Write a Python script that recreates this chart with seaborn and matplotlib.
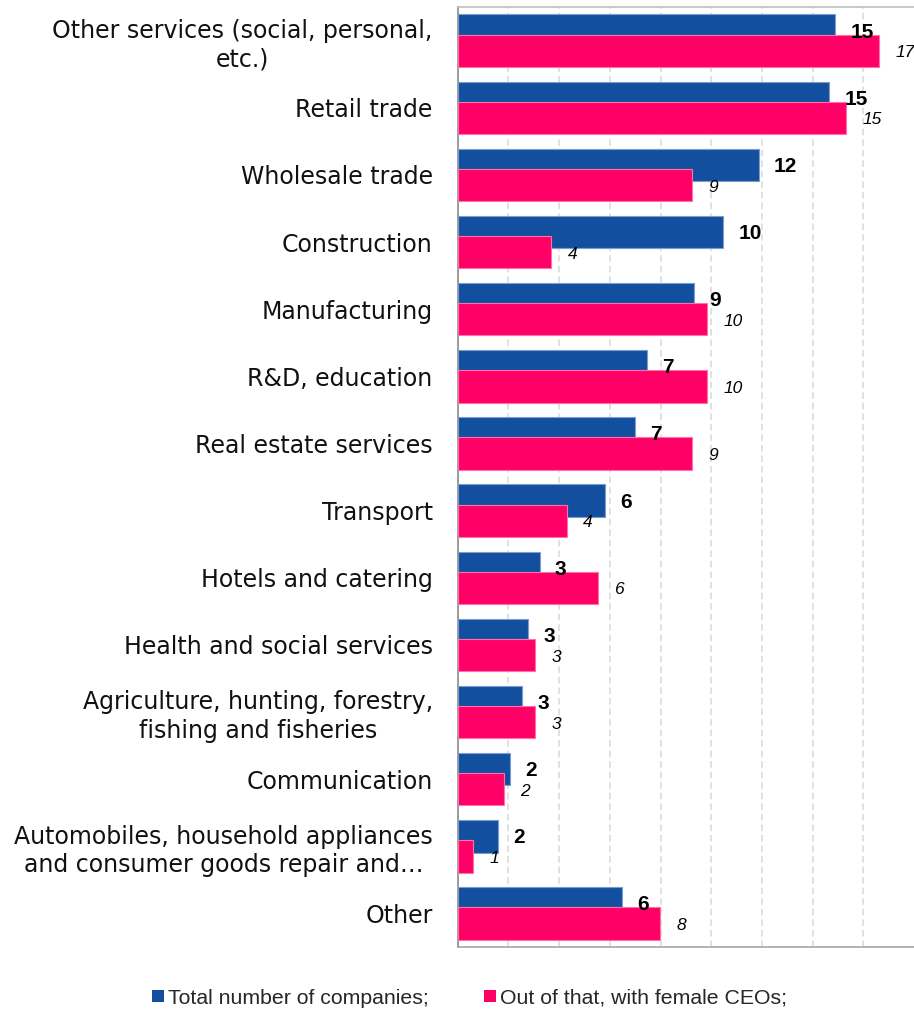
import numpy as np
import pandas as pd
import matplotlib
matplotlib.use("Agg")
import matplotlib.pyplot as plt
import seaborn as sns

# Sectors, top to bottom
sectors = [
    "Other services (social, personal,\netc.)",
    "Retail trade",
    "Wholesale trade",
    "Construction",
    "Manufacturing",
    "R&D, education",
    "Real estate services",
    "Transport",
    "Hotels and catering",
    "Health and social services",
    "Agriculture, hunting, forestry,\nfishing and fisheries",
    "Communication",
    "Automobiles, household appliances\nand consumer goods repair and\u2026",
    "Other",
]

series = ["Total number of companies;", "Out of that, with female CEOs;"]

# Share of companies by sector, %
total_share = [14.9, 14.66, 11.87, 10.48, 9.33, 7.46, 6.98, 5.81, 3.23, 2.77, 2.55, 2.08, 1.6, 6.48]
female_share = [16.6, 15.33, 9.23, 3.67, 9.83, 9.83, 9.23, 4.3, 5.52, 3.06, 3.06, 1.81, 0.59, 7.98]

BLUE = "#12509F"
PINK = "#FF0066"
BLUE_EDGE = "#7C9CCF"
PINK_EDGE = "#FF70A6"

df = pd.DataFrame({
    "sector": sectors * 2,
    "series": [series[0]] * len(sectors) + [series[1]] * len(sectors),
    "share": total_share + female_share,
})

sns.set_style("white")

W, H = 914, 1009
fig = plt.figure(figsize=(W / 100, H / 100), dpi=100)
ax_left, ax_right, ax_top, ax_bottom = 457.7, 914.0, 7.0, 947.0
ax = fig.add_axes([ax_left / W, 1 - ax_bottom / H, (ax_right - ax_left) / W, (ax_bottom - ax_top) / H])

sns.barplot(
    data=df, y="sector", x="share", hue="series", orient="h",
    order=sectors, hue_order=series, palette=[BLUE, PINK], saturation=1,
    width=0.8, dodge=True, ax=ax, legend=True, zorder=3,
)

# Overlapping bars: widen each bar and pull the pair together
bar_height = 0.482
offsets = [-0.148, 0.151]
edges = [BLUE_EDGE, PINK_EDGE]
for i, cont in enumerate(ax.containers):
    for bar in cont.patches:
        center = round(bar.get_y() + bar.get_height() / 2)
        bar.set_height(bar_height)
        bar.set_y(center + offsets[i] - bar_height / 2)
        bar.set_edgecolor(edges[i])
        bar.set_linewidth(0.8)
        bar.set_zorder(3 + i)

# Value labels
for i, cont in enumerate(ax.containers):
    vals = total_share if i == 0 else female_share
    for bar, v in zip(cont.patches, vals):
        y = bar.get_y() + bar.get_height() / 2
        if i == 0:
            ax.annotate(f"{v:.0f}", (bar.get_width(), y), xytext=(11, -1),
                        textcoords="offset points", ha="left", va="center",
                        fontsize=15, fontweight="bold", family="Liberation Sans",
                        color="black", zorder=6, annotation_clip=False)
        else:
            ax.annotate(f"{v:.0f}", (bar.get_width(), y), xytext=(12, -1.5),
                        textcoords="offset points", ha="left", va="center",
                        fontsize=12.5, fontstyle="italic", family="Liberation Sans",
                        color="black", zorder=6, annotation_clip=False)

ax.set_xlim(0, 18)
ax.set_ylim(len(sectors) - 0.5, -0.5)
ax.set_xlabel("")
ax.set_ylabel("")

# Grid
ax.set_xticks(np.arange(0, 17, 2))
ax.set_xticklabels([])
ax.tick_params(axis="x", length=0)
ax.grid(axis="x", color="#D9D9D9", linewidth=1.1, linestyle=(0, (4.3, 2.6)), zorder=0)
ax.grid(axis="y", visible=False)
ax.set_axisbelow(True)

# Category ticks at boundaries, labels at centres
ax.set_yticks(np.arange(len(sectors)))
ax.set_yticklabels(sectors, fontsize=17, family="DejaVu Sans", color="#111111",
                   multialignment="center", linespacing=1.22)
ax.set_yticks(np.arange(-0.5, len(sectors), 1), minor=True)
ax.tick_params(axis="y", which="major", length=0, pad=18)
ax.tick_params(axis="y", which="minor", length=6.5, width=1.2, color="#8C8C8C", direction="out")

for name, sp in ax.spines.items():
    sp.set_visible(True)
    sp.set_linewidth(1.2)
ax.spines["left"].set_color("#8C8C8C")
ax.spines["bottom"].set_color("#A6A6A6")
ax.spines["top"].set_color("#BFBFBF")
ax.spines["right"].set_visible(False)

# Legend below the chart
handles, labels = ax.get_legend_handles_labels()
ax.get_legend().remove()
for h in handles:
    h.set_edgecolor("none")
fig.legend(handles, labels, loc="center", bbox_to_anchor=(0.514, 1 - 998 / H),
           ncol=2, frameon=False, prop={"family": "Liberation Sans", "size": 15.3},
           handlelength=0.55, handleheight=0.55, handletextpad=0.2, columnspacing=2.6)

fig.savefig("out.png", dpi=100)
